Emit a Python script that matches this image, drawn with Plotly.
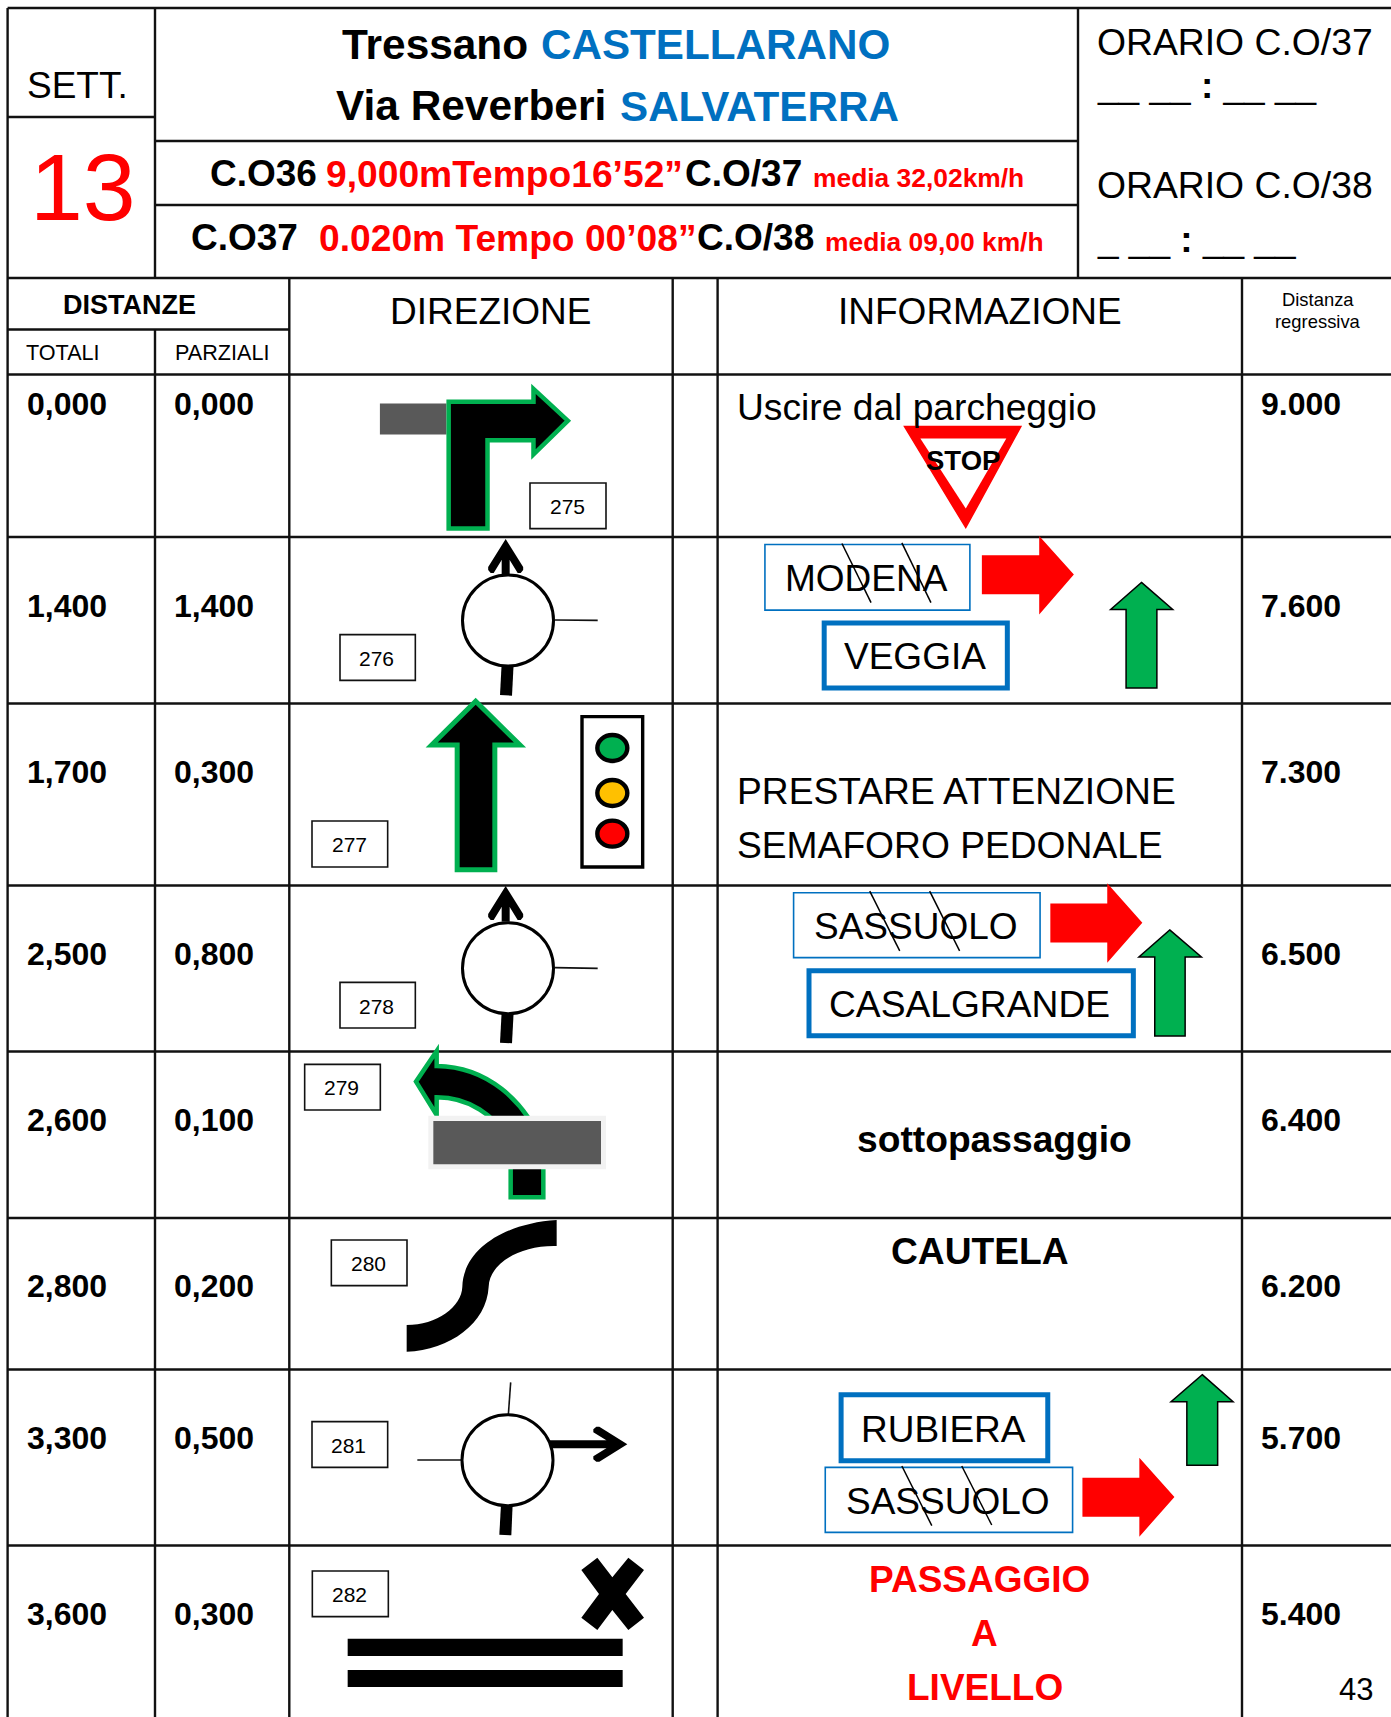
import plotly.graph_objects as go

# ---------- table content ----------
totali = ["0,000", "1,400", "1,700", "2,500", "2,600", "2,800", "3,300", "3,600"]
parziali = ["0,000", "1,400", "0,300", "0,800", "0,100", "0,200", "0,500", "0,300"]
regressiva = ["9.000", "7.600", "7.300", "6.500", "6.400", "6.200", "5.700", "5.400"]
box_numbers = ["275", "276", "277", "278", "279", "280", "281", "282"]

# ---------- geometry, full-size pixels ----------
row_baselines = [415.5, 617, 783, 965, 1131, 1297, 1449, 1625]
row_lines = [374.5, 537, 703.5, 885.5, 1051.5, 1218, 1369.5, 1545.5]
col_lines = [7.6, 155, 289.3, 672.7, 717.6, 1242]

W, H = 1391, 1717
BLUE, RED, GREEN, GREY = "#0070C0", "#FF0000", "#00B050", "#595959"
FONT = "Liberation Sans"
shapes, notes = [], []


def line(x0, y0, x1, y1, w=2.4, c="#111111"):
    shapes.append(dict(type="line", x0=x0, y0=y0, x1=x1, y1=y1, line=dict(color=c, width=w)))


def path(d, fill="rgba(0,0,0,0)", c=None, w=0):
    shapes.append(dict(type="path", path=d, fillcolor=fill,
                       line=dict(color=c or "rgba(0,0,0,0)", width=w)))


def poly(pts, fill="rgba(0,0,0,0)", c=None, w=0):
    d = "M " + " L ".join(f"{x:.2f},{y:.2f}" for x, y in pts) + " Z"
    path(d, fill, c, w)


def rect(x0, y0, x1, y1, fill="rgba(0,0,0,0)", c=None, w=0):
    shapes.append(dict(type="rect", x0=x0, y0=y0, x1=x1, y1=y1, fillcolor=fill,
                       line=dict(color=c or "rgba(0,0,0,0)", width=w)))


def ell(cx, cy, rx, ry, fill, c="#000000", w=3):
    shapes.append(dict(type="circle", x0=cx - rx, x1=cx + rx, y0=cy - ry, y1=cy + ry,
                       fillcolor=fill, line=dict(color=c, width=w)))


def text(x, base, s, size, color="#000000", bold=False, anchor="left"):
    if bold:
        s = f"<b>{s}</b>"
    notes.append(dict(x=x, y=base - 0.347 * size, text=s, xref="x", yref="y", showarrow=False,
                      xanchor=anchor, yanchor="middle", borderpad=0, borderwidth=0,
                      font=dict(family=FONT, size=size, color=color)))


def zmap(ox, oy, sx, sy):
    return lambda x, y: (ox + x / sx, oy + y / sy)


z3a = zmap(280, 530, 3, 3)
z3b = zmap(280, 880, 3, 3)
z3c = zmap(280, 1360, 3, 3)
z6 = zmap(720, 530, 2.337, 2.958)
z7 = zmap(720, 1360, 2.337, 3)
z1 = zmap(0, 0, 2.24, 2.9)
z2 = zmap(700, 0, 2.269, 2.9)

# ---------- grid ----------
line(7.6, 8, W, 8)
line(7.6, 8, 7.6, H)
line(155, 8, 155, 278)
line(1078, 8, 1078, 278)
line(7.6, 117, 155, 117)
line(155, 141, 1078, 141)
line(155, 205, 1078, 205)
line(7.6, 278, W, 278)
line(7.6, 329.5, 289.3, 329.5)
for y in row_lines:
    line(7.6, y, W, y)
for x in col_lines[2:]:
    line(x, 278, x, H)
line(155, 329.5, 155, H)

# ---------- header text ----------
text(26.5, 98.5, "SETT.", 37)
text(30, 220, "13", 95, RED)
text(342, 59.2, "Tressano", 42.4, bold=True)
text(541, 59.2, "CASTELLARANO", 42.2, BLUE, True)
text(336, 120.7, "Via Reverberi", 42.4, bold=True)
text(619.5, 120.7, "SALVATERRA", 42.2, BLUE, True)
text(209.5, 186.5, "C.O36", 37, bold=True)
text(326, 186.5, "9,000mTempo16’52”", 37.2, RED, True)
text(685, 186.5, "C.O/37", 37, bold=True)
text(812.5, 187, "media 32,02km/h", 26.4, RED, True)
text(190.5, 250.7, "C.O37", 37, bold=True)
text(318.8, 250.7, "0.020m Tempo 00’08”", 37.2, RED, True)
text(696.5, 250.7, "C.O/38", 37, bold=True)
text(825, 250.7, "media 09,00 km/h", 26.4, RED, True)
text(1097, 55, "ORARIO C.O/37", 37.3)
text(1097, 98, "__ __ <b>:</b> __ __", 37)
text(1097, 198, "ORARIO C.O/38", 37.3)
text(1097, 252, "_ __ <b>:</b> __ __", 37)
text(63, 314.8, "DISTANZE", 27, bold=True)
text(26, 360, "TOTALI", 21.6)
text(174.5, 360, "PARZIALI", 21.6)
text(389.5, 324, "DIREZIONE", 37)
text(837.5, 324, "INFORMAZIONE", 37)
text(1317.5, 306, "Distanza", 18.4, anchor="center")
text(1317.5, 328, "regressiva", 18.4, anchor="center")

for i, y in enumerate(row_baselines):
    text(27, y, totali[i], 32, bold=True)
    text(174.3, y, parziali[i], 32, bold=True)
    text(1261, y, regressiva[i], 32, bold=True)


# ---------- numbered boxes: x0, y0, x1, y1, text centre, baseline ----------
def numbox(pts, label):
    x0, y0, x1, y1, cx, by = pts
    rect(x0, y0, x1, y1, "#FFFFFF", "#111111", 1.6)
    text(cx, by, label, 21, anchor="center")


# ---------- roundabout ----------
def road_arrow_poly(tx, ty, dirx, diry):
    """chevron head whose tip is at (tx,ty), pointing along (dirx,diry); sizes in px"""
    px, py = -diry, dirx
    def P(a, b):
        return (tx - dirx * a + px * b, ty - diry * a + py * b)
    return [P(0, 0), P(28, 17.5), P(31, 17.5), P(34, 15), P(34, 12), P(21, 4), P(21, -4),
            P(34, -12), P(34, -15), P(31, -17.5), P(28, -17.5)]


def roundabout(cx, cy):
    ell(cx, cy, 45.5, 45.5, "#FFFFFF", "#000000", 3)


# row 1 diagram
rect(*z1(851, 1170), *z1(1000, 1260), GREY)
poly([z1(1005, 1533), z1(1005, 1165), z1(1195, 1165), z1(1195, 1128), z1(1272, 1220),
      z1(1195, 1318), z1(1195, 1277), z1(1092, 1277), z1(1092, 1533)], "#000000", GREEN, 4.5)
numbox((530, 483, 606, 528.6, 567, 513.5), box_numbers[0])

# row 2 diagram
cx, cy = 508, 620.5
line(*z3a(825, 270), *z3a(953, 271), w=1.6)
line(*z3a(677, 135), *z3a(677, 60), w=8, c="#000000")
poly(road_arrow_poly(*z3a(677, 27), 0, -1), "#000000")
poly([z3a(665, 400), z3a(701, 400), z3a(696, 497), z3a(660, 495)], "#000000")
roundabout(cx, cy)
numbox((*z3a(180, 314), *z3a(406, 451), z3a(290, 0)[0], z3a(0, 408)[1]), box_numbers[1])

# row 3 diagram
poly([z3a(587, 514), z3a(455, 645), z3a(531.5, 645), z3a(531.5, 1019.5), z3a(644.5, 1019.5),
      z3a(644.5, 645), z3a(720, 645)], "#000000", GREEN, 5)
rect(*z3a(906, 560), *z3a(1088, 1011), "#FFFFFF", "#000000", 3.4)
ell(*z3a(997, 654), 15, 13, GREEN, "#000000", 4.4)
ell(*z3a(997, 789), 15, 13, "#FFC000", "#000000", 4.4)
ell(*z3a(997, 911), 15, 13, RED, "#000000", 4.4)
numbox((*z3a(96, 873), *z3a(323, 1011), z3a(207, 0)[0], z3a(0, 964)[1]), box_numbers[2])

# row 4 diagram
cx, cy = 508, 968.2
line(*z3b(825, 263), *z3b(953, 265), w=1.6)
line(*z3b(677, 125), *z3b(677, 55), w=8, c="#000000")
poly(road_arrow_poly(*z3b(677, 18), 0, -1), "#000000")
poly([z3b(665, 395), z3b(701, 395), z3b(696, 490), z3b(660, 488)], "#000000")
roundabout(cx, cy)
numbox((*z3b(180, 307), *z3b(406, 444), z3b(290, 0)[0], z3b(0, 402)[1]), box_numbers[3])


def curve(zf, *pts):
    """path string pieces: M first then cubic groups of three"""
    out = ["M {:.2f},{:.2f}".format(*zf(*pts[0]))]
    rest = pts[1:]
    for k in range(0, len(rest), 3):
        a, b, c = rest[k:k + 3]
        out.append("C {:.2f},{:.2f} {:.2f},{:.2f} {:.2f},{:.2f}".format(*zf(*a), *zf(*b), *zf(*c)))
    return " ".join(out)


# row 5 diagram
d = curve(z3b, (790, 800), (735, 660), (620, 560), (470, 558))
lp = lambda x, y: "L {:.2f},{:.2f}".format(*z3b(x, y))
d2 = " ".join([d, lp(470, 513), lp(408, 605), lp(470, 705), lp(470, 652),
               "C {:.2f},{:.2f} {:.2f},{:.2f} {:.2f},{:.2f}".format(*z3b(560, 652), *z3b(650, 700), *z3b(692, 800)),
               lp(692, 952), lp(790, 952), "Z"])
path(d2, "#000000", GREEN, 4.5)
rect(*z3b(445, 707), *z3b(978, 868), "#F2F2F2")
rect(*z3b(460, 723), *z3b(963, 853), GREY)
numbox((*z3b(74, 553), *z3b(301, 690), z3b(185, 0)[0], z3b(0, 645)[1]), box_numbers[4])

# row 6 diagram
up = curve(z3b, (830, 1020), (670, 1030), (550, 1110), (547, 1220), (545, 1280), (470, 1335), (380, 1335))
low = "L {:.2f},{:.2f} C {:.2f},{:.2f} {:.2f},{:.2f} {:.2f},{:.2f} C {:.2f},{:.2f} {:.2f},{:.2f} {:.2f},{:.2f} Z".format(
    *z3b(380, 1415), *z3b(510, 1410), *z3b(620, 1330), *z3b(626, 1220),
    *z3b(628, 1150), *z3b(720, 1095), *z3b(830, 1098))
path(up + " " + low, "#000000")
numbox((*z3b(154, 1080), *z3b(381, 1217), z3b(265, 0)[0], z3b(0, 1173)[1]), box_numbers[5])

# row 7 diagram
cx, cy = z3c(682.5, 300.5)
line(*z3c(685, 165), *z3c(692, 67), w=1.6)
line(*z3c(412, 300), *z3c(545, 300), w=1.6)
line(*z3c(810, 253), *z3c(1000, 253), w=8, c="#000000")
poly(road_arrow_poly(*z3c(1042, 253), 1, 0), "#000000")
poly([z3c(663, 432), z3c(698, 432), z3c(694, 526), z3c(658, 524)], "#000000")
roundabout(cx, cy)
numbox((*z3c(96, 185), *z3c(323, 322), z3c(205, 0)[0], z3c(0, 277)[1]), box_numbers[6])

# row 8 diagram
poly([z3c(x, y) for x, y in [(952, 593), (997, 652), (1045, 593), (1092, 630), (1037, 702), (1092, 773),
                             (1045, 810), (997, 750), (952, 810), (904, 773), (957, 702), (904, 630)]], "#000000")
rect(*z3c(203, 836), *z3c(1028, 888), "#000000")
rect(*z3c(203, 930), *z3c(1028, 981), "#000000")
numbox((*z3c(97, 633), *z3c(325, 770), z3c(208, 0)[0], z3c(0, 725)[1]), box_numbers[7])


# ---------- information column ----------
def sign(zf, x0, y0, x1, y1, thick):
    rect(*zf(x0, y0), *zf(x1, y1), "#FFFFFF", BLUE, 5 if thick else 1.6)


def red_arrow(zf, xs, xh, xt, ys0, ys1, yh0, yt, yh1):
    poly([zf(xs, ys0), zf(xh, ys0), zf(xh, yh0), zf(xt, yt), zf(xh, yh1), zf(xh, ys1), zf(xs, ys1)], RED)


def green_arrow(zf, xt, yt, xl, xr, yh, xs0, xs1, yb):
    poly([zf(xt, yt), zf(xr, yh), zf(xs1, yh), zf(xs1, yb), zf(xs0, yb), zf(xs0, yh), zf(xl, yh)],
         GREEN, "#000000", 1.5)


def strike(zf, a, b, c, d_):
    line(*zf(a, b), *zf(c, d_), w=1.5, c="#000000")


text(737, 420, "Uscire dal parcheggio", 37.2)
poly([z2(464, 1237), z2(728, 1237), z2(603, 1530)], RED, RED, 1.5)
poly([z2(500, 1272), z2(695, 1272), z2(603, 1475)], "#FFFFFF")
text(962.6, 470.2, "STOP", 27.5, bold=True, anchor="center")

sign(z6, 105, 43, 584, 237, False)
text(z6(342, 0)[0], z6(0, 180)[1], "MODENA", 37, anchor="center")
strike(z6, 285, 40, 353, 215)
strike(z6, 425, 38, 493, 215)
red_arrow(z6, 612, 746, 827, 75, 190, 18, 132, 250)
sign(z6, 243.5, 275, 671.5, 467, True)
text(z6(455, 0)[0], z6(0, 411)[1], "VEGGIA", 37, anchor="center")
green_arrow(z6, 985, 155, 913, 1058, 235, 949, 1021, 467)

text(737, 804, "PRESTARE ATTENZIONE", 37.2)
text(737, 858, "SEMAFORO PEDONALE", 37.2)

sign(z6, 172, 1073, 748, 1265, False)
text(z6(457, 0)[0], z6(0, 1211)[1], "SASSUOLO", 37, anchor="center")
strike(z6, 350, 1068, 420, 1245)
strike(z6, 490, 1068, 560, 1245)
red_arrow(z6, 772, 905, 987, 1105, 1220, 1045, 1162, 1280)
sign(z6, 208, 1304, 966, 1496, True)
text(z6(582, 0)[0], z6(0, 1440)[1], "CASALGRANDE", 37.2, anchor="center")
green_arrow(z6, 1051, 1183, 979, 1125, 1263, 1016, 1087, 1497)

text(994, 1152, "sottopassaggio", 37.2, bold=True, anchor="center")
text(980, 1264, "CAUTELA", 37.2, bold=True, anchor="center")

sign(z7, 283, 104, 766, 302, True)
text(z7(523, 0)[0], z7(0, 248)[1], "RUBIERA", 37, anchor="center")
sign(z7, 246, 322, 824, 517, False)
text(z7(533, 0)[0], z7(0, 463)[1], "SASSUOLO", 37, anchor="center")
strike(z7, 425, 318, 495, 497)
strike(z7, 565, 318, 635, 495)
red_arrow(z7, 847, 980, 1062, 353, 470, 293, 411, 530)
green_arrow(z7, 1127, 44, 1054, 1199, 125, 1091, 1163, 316)

text(z7(607, 0)[0], z7(0, 698)[1], "PASSAGGIO", 37, RED, True, "center")
text(z7(618, 0)[0], z7(0, 858)[1], "A", 37, RED, True, "center")
text(z7(619, 0)[0], z7(0, 1021)[1], "LIVELLO", 37, RED, True, "center")
text(1356, 1700.7, "43", 31, anchor="center")

# ---------- figure ----------
fig = go.Figure()
fig.update_layout(
    width=W, height=H, margin=dict(l=0, r=0, t=0, b=0, pad=0),
    paper_bgcolor="#FFFFFF", plot_bgcolor="#FFFFFF", showlegend=False,
    xaxis=dict(range=[0, W], visible=False, fixedrange=True),
    yaxis=dict(range=[H, 0], visible=False, fixedrange=True),
    shapes=shapes, annotations=notes,
)
fig.write_html("out.html", config=dict(displayModeBar=False),
               post_script="document.body.style.margin='0';document.documentElement.style.overflow='hidden';")
